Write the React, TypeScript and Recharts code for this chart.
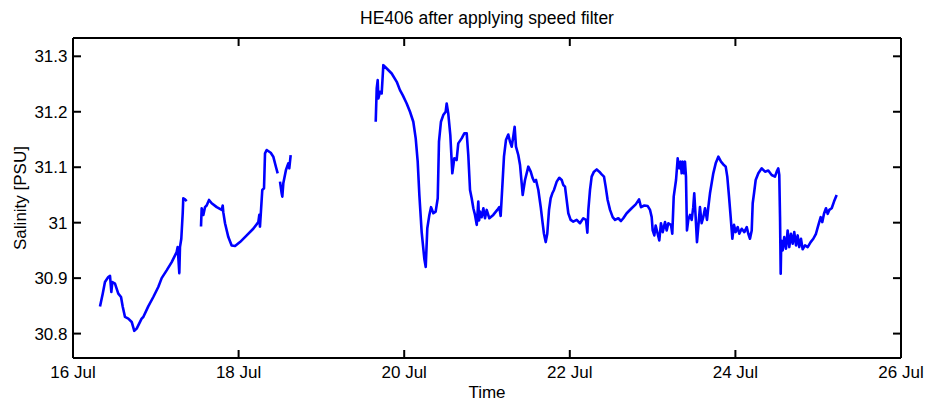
import React from 'react';
import { LineChart, Line, XAxis, YAxis } from 'recharts';

// time in days of July, salinity in PSU, one pair of arrays per logged stretch
const seg1Time = [16.326, 16.359, 16.386, 16.426, 16.447, 16.463, 16.475, 16.507, 16.547, 16.58, 16.6, 16.628, 16.668, 16.709, 16.74, 16.769, 16.829, 16.849, 16.909, 16.97, 17.03, 17.071, 17.131, 17.192, 17.252, 17.264, 17.284, 17.292, 17.308, 17.325, 17.332, 17.353, 17.373];
const seg1Sal = [30.849, 30.872, 30.893, 30.902, 30.904, 30.875, 30.893, 30.89, 30.872, 30.866, 30.849, 30.83, 30.827, 30.821, 30.805, 30.809, 30.827, 30.83, 30.849, 30.866, 30.884, 30.9, 30.914, 30.929, 30.947, 30.956, 30.909, 30.956, 30.971, 31.017, 31.044, 31.042, 31.039];

const seg2Time = [17.546, 17.554, 17.574, 17.594, 17.614, 17.643, 17.675, 17.736, 17.796, 17.808, 17.815, 17.836, 17.876, 17.916, 17.957, 18.017, 18.098, 18.177, 18.238, 18.25, 18.258, 18.271, 18.286, 18.307, 18.319, 18.339, 18.388, 18.419, 18.452, 18.472];
const seg2Sal = [30.993, 31.026, 31.014, 31.028, 31.031, 31.041, 31.035, 31.028, 31.023, 31.031, 31.019, 30.999, 30.974, 30.959, 30.958, 30.965, 30.977, 30.989, 31.001, 31.014, 30.993, 31.023, 31.059, 31.062, 31.125, 31.131, 31.126, 31.119, 31.1, 31.089];

const seg3Time = [18.5, 18.52, 18.528, 18.54, 18.572, 18.6, 18.612, 18.629];
const seg3Sal = [31.074, 31.053, 31.047, 31.071, 31.095, 31.107, 31.098, 31.122];

const seg4Time = [
  19.656, 19.668, 19.68, 19.688, 19.708, 19.728, 19.748, 19.789, 19.849, 19.91, 19.949, 19.982, 20.03, 20.07, 20.11, 20.139, 20.163, 20.183, 20.211, 20.243,
  20.26, 20.279, 20.304, 20.324, 20.352, 20.38, 20.405, 20.42, 20.444, 20.472, 20.501, 20.513, 20.532, 20.557, 20.581, 20.605, 20.633, 20.653, 20.694, 20.726,
  20.755, 20.774, 20.795, 20.815, 20.835, 20.855, 20.876, 20.895, 20.905, 20.915, 20.935, 20.956, 20.976, 20.996, 21.028, 21.076, 21.124, 21.149, 21.165, 21.185,
  21.205, 21.229, 21.257, 21.278, 21.298, 21.317, 21.334, 21.35, 21.378, 21.399, 21.419, 21.431, 21.459, 21.499, 21.528, 21.552, 21.571, 21.592, 21.62, 21.649,
  21.673, 21.688, 21.709, 21.728, 21.749, 21.769, 21.789, 21.809, 21.842, 21.873, 21.902, 21.921, 21.942, 21.962, 21.982, 22.01, 22.042, 22.083, 22.123, 22.163,
  22.196, 22.212, 22.224, 22.244, 22.264, 22.292, 22.325, 22.356, 22.385, 22.413, 22.433, 22.457, 22.486, 22.518, 22.546, 22.586, 22.618, 22.646, 22.687, 22.747,
  22.796, 22.836, 22.86, 22.9, 22.941, 22.969, 22.989, 23.001, 23.021, 23.037, 23.061, 23.081, 23.101, 23.122, 23.15, 23.17, 23.19, 23.222, 23.238, 23.255,
  23.283, 23.303, 23.322, 23.339, 23.351, 23.363, 23.379, 23.391, 23.403, 23.415, 23.431, 23.452, 23.472, 23.491, 23.503, 23.52, 23.536, 23.552, 23.572, 23.592,
  23.612, 23.633, 23.657, 23.673, 23.693, 23.713, 23.733, 23.762, 23.794, 23.826, 23.854, 23.883, 23.902, 23.923, 23.943, 23.963, 23.983, 24.003, 24.028, 24.047,
  24.076, 24.108, 24.137, 24.156, 24.176, 24.197, 24.209, 24.225, 24.245, 24.277, 24.318, 24.358, 24.397, 24.438, 24.478, 24.499, 24.518, 24.53, 24.539, 24.547,
  24.554, 24.571, 24.59, 24.611, 24.631, 24.651, 24.671, 24.692, 24.711, 24.732, 24.752, 24.771, 24.792, 24.812, 24.841, 24.873, 24.909, 24.941, 24.973, 25.001,
  25.03, 25.049, 25.07, 25.094, 25.115, 25.134, 25.163, 25.191, 25.223,
];
const seg4Sal = [
  31.182, 31.242, 31.257, 31.224, 31.236, 31.233, 31.284, 31.278, 31.269, 31.254, 31.239, 31.23, 31.215, 31.2, 31.182, 31.152, 31.11, 31.05, 30.983, 30.935,
  30.92, 30.99, 31.014, 31.028, 31.017, 31.02, 31.044, 31.146, 31.182, 31.194, 31.2, 31.215, 31.197, 31.158, 31.089, 31.116, 31.113, 31.143, 31.152, 31.161,
  31.161, 31.122, 31.059, 31.044, 31.026, 31.014, 30.996, 31.038, 31.004, 31.02, 31.01, 31.026, 31.008, 31.023, 31.008, 31.014, 31.023, 31.028, 31.012, 31.065,
  31.119, 31.149, 31.159, 31.146, 31.137, 31.155, 31.173, 31.137, 31.122, 31.104, 31.071, 31.05, 31.077, 31.101, 31.092, 31.08, 31.074, 31.077, 31.059, 31.028,
  30.998, 30.98, 30.965, 30.98, 31.023, 31.044, 31.053, 31.059, 31.074, 31.081, 31.077, 31.068, 31.065, 31.041, 31.017, 31.005, 31.002, 31.005, 30.999, 31.008,
  31.005, 30.982, 31.023, 31.059, 31.083, 31.092, 31.096, 31.092, 31.087, 31.083, 31.065, 31.041, 31.023, 31.01, 31.005, 31.008, 31.003, 31.008, 31.017, 31.026,
  31.033, 31.042, 31.028, 31.031, 31.03, 31.023, 31.01, 30.986, 30.977, 30.995, 30.98, 30.968, 30.999, 30.983, 31.001, 30.986, 30.999, 30.996, 30.98, 31.047,
  31.077, 31.116, 31.098, 31.11, 31.089, 31.11, 31.089, 31.11, 31.083, 30.986, 31.005, 31.014, 31.005, 31.028, 31.053, 31.01, 30.965, 30.993, 31.028, 30.999,
  31.01, 31.026, 31.005, 31.028, 31.053, 31.071, 31.089, 31.107, 31.119, 31.11, 31.105, 31.101, 31.083, 31.047, 31.01, 30.971, 30.996, 30.983, 30.992, 30.98,
  30.989, 30.983, 30.992, 30.98, 30.971, 30.986, 31.035, 31.053, 31.077, 31.089, 31.098, 31.092, 31.094, 31.086, 31.083, 31.092, 31.098, 31.086, 31.01, 30.908,
  30.968, 30.95, 30.974, 30.953, 30.986, 30.956, 30.98, 30.962, 30.983, 30.959, 30.977, 30.956, 30.971, 30.952, 30.959, 30.956, 30.965, 30.971, 30.98, 30.995,
  31.01, 31.001, 31.016, 31.026, 31.016, 31.023, 31.026, 31.038, 31.05,
];

const timeTicks = [16, 18, 20, 22, 24, 26];
const salTicks = [30.8, 30.9, 31, 31.1, 31.2, 31.3];

const segments = [
  { t: seg1Time, s: seg1Sal },
  { t: seg2Time, s: seg2Sal },
  { t: seg3Time, s: seg3Sal },
  { t: seg4Time, s: seg4Sal },
];

// flatten, with a null between stretches so the line breaks there
const data: { t: number; s: number | null }[] = [];
segments.forEach((seg, i) => {
  if (i > 0) {
    const prev = segments[i - 1].t;
    data.push({ t: (prev[prev.length - 1] + seg.t[0]) / 2, s: null });
  }
  seg.t.forEach((t, j) => data.push({ t, s: seg.s[j] }));
});

const FONT = '"Liberation Sans", Arial, Helvetica, sans-serif';
const tickStyle = { fill: '#000', fontSize: 17, fontFamily: FONT };
const frame = { stroke: '#000', strokeWidth: 2 };
const fmtDay = (v: number) => `${v} Jul`;
const fmtSal = (v: number) => String(Number(v.toFixed(1)));
const blank = () => '';

const App: React.FC = () => (
  <div style={{ position: 'absolute', left: 0, top: 0, fontFamily: FONT }}>
    <LineChart width={927} height={405} data={data} margin={{ top: 0, right: 0, bottom: 0, left: 0 }}>
      <XAxis
        dataKey="t"
        type="number"
        domain={[16, 26]}
        ticks={timeTicks}
        tickFormatter={fmtDay}
        tick={tickStyle}
        height={47}
        tickSize={-8}
        tickMargin={16}
        axisLine={frame}
        tickLine={frame}
        label={{ value: 'Time', position: 'insideBottom', offset: 7, fill: '#000', fontSize: 17, fontFamily: FONT }}
      />
      <XAxis
        xAxisId="top"
        orientation="top"
        dataKey="t"
        type="number"
        domain={[16, 26]}
        ticks={timeTicks}
        tickFormatter={blank}
        height={38}
        tickSize={-8}
        axisLine={frame}
        tickLine={frame}
        label={{ value: 'HE406 after applying speed filter', position: 'insideTop', offset: 12, fill: '#000', fontSize: 17.5, fontFamily: FONT }}
      />
      <YAxis
        type="number"
        domain={[30.756, 31.333]}
        allowDataOverflow
        ticks={salTicks}
        tickFormatter={fmtSal}
        tick={tickStyle}
        width={73}
        tickSize={-8}
        tickMargin={13.5}
        axisLine={frame}
        tickLine={frame}
        label={{ value: 'Salinity [PSU]', angle: -90, position: 'insideLeft', offset: 20, fill: '#000', fontSize: 17, fontFamily: FONT, style: { textAnchor: 'middle' } }}
      />
      <YAxis
        yAxisId="right"
        orientation="right"
        type="number"
        domain={[30.756, 31.333]}
        allowDataOverflow
        ticks={salTicks}
        tickFormatter={blank}
        width={26}
        tickSize={-8}
        axisLine={frame}
        tickLine={frame}
      />
      <Line
        dataKey="s"
        type="linear"
        stroke="#0000ff"
        strokeWidth={2.6}
        strokeLinejoin="round"
        dot={false}
        connectNulls={false}
        isAnimationActive={false}
      />
    </LineChart>
  </div>
);

export default App;
